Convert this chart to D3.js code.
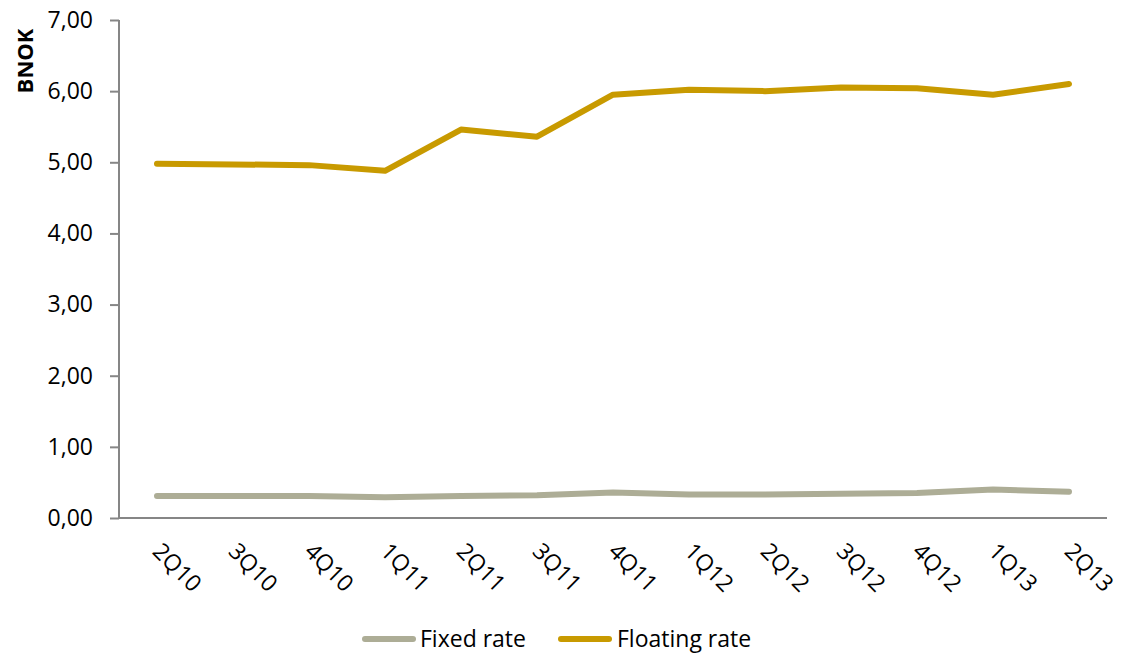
<!DOCTYPE html>
<html><head><meta charset="utf-8">
<script src="https://cdn.jsdelivr.net/npm/d3@7/dist/d3.min.js"></script>
<style>body{margin:0;background:#fff}text{font-family:"Open Sans",sans-serif}</style>
</head><body><svg id="c" width="1121" height="654"></svg>
<script>
const categories=["2Q10","3Q10","4Q10","1Q11","2Q11","3Q11","4Q11","1Q12","2Q12","3Q12","4Q12","1Q13","2Q13"];
const fixedRate=[0.31,0.31,0.31,0.29,0.31,0.32,0.36,0.33,0.33,0.34,0.35,0.40,0.37];
const floatingRate=[4.98,4.97,4.96,4.88,5.46,5.36,5.95,6.02,6.00,6.05,6.04,5.95,6.10];
const yTicks=[0,1,2,3,4,5,6,7];
const seriesNames=["Fixed rate","Floating rate"];
const colors=["#ADAD96","#C89A00"];

const svg=d3.select("#c");
const L=119,R=1107,T=20,B=518;
const x=d3.scaleBand().domain(categories).range([L,R]);
const y=d3.scaleLinear().domain([0,7]).range([B,T]);
const fmt=d=>d3.format(".2f")(d).replace(".",",");

const ya=svg.append("g").attr("transform",`translate(${L},0)`).call(d3.axisLeft(y).tickValues(yTicks).tickFormat(fmt).tickSize(9).tickPadding(17));
ya.select(".domain").attr("stroke","#868686").attr("stroke-width",2).attr("d",`M0,${T}V${B}`);
ya.selectAll(".tick line").attr("stroke","#868686").attr("stroke-width",2);
ya.selectAll(".tick text").attr("font-size",23).attr("fill","#000");

const xa=svg.append("g").attr("transform",`translate(0,${B})`).call(d3.axisBottom(x).tickSize(0));
xa.select(".domain").attr("stroke","#868686").attr("stroke-width",2).attr("d",`M${L},0H${R}`);
xa.selectAll(".tick text").attr("font-size",23).attr("fill","#000")
  .attr("text-anchor","start").attr("transform","translate(0,29) rotate(45)").attr("y",0).attr("dy","0.35em").attr("x",0);

svg.append("text").attr("transform","translate(33,61) rotate(-90)").attr("text-anchor","middle")
  .attr("font-size",22).attr("font-weight","bold").text("BNOK");

const line=d3.line().x((d,i)=>x(categories[i])+x.bandwidth()/2).y(d=>y(d));
[fixedRate,floatingRate].forEach((s,k)=>{
  svg.append("path").datum(s).attr("d",line).attr("fill","none").attr("stroke",colors[k])
    .attr("stroke-width",6).attr("stroke-linecap","round").attr("stroke-linejoin","round");
});

const lg=[{x:365,tx:420},{x:561,tx:617}];
seriesNames.forEach((n,k)=>{
  svg.append("line").attr("x1",lg[k].x).attr("x2",lg[k].x+48).attr("y1",639).attr("y2",639)
    .attr("stroke",colors[k]).attr("stroke-width",6).attr("stroke-linecap","round");
  svg.append("text").attr("x",lg[k].tx).attr("y",639).attr("dy","0.35em").attr("font-size",23).text(n);
});
</script></body></html>
